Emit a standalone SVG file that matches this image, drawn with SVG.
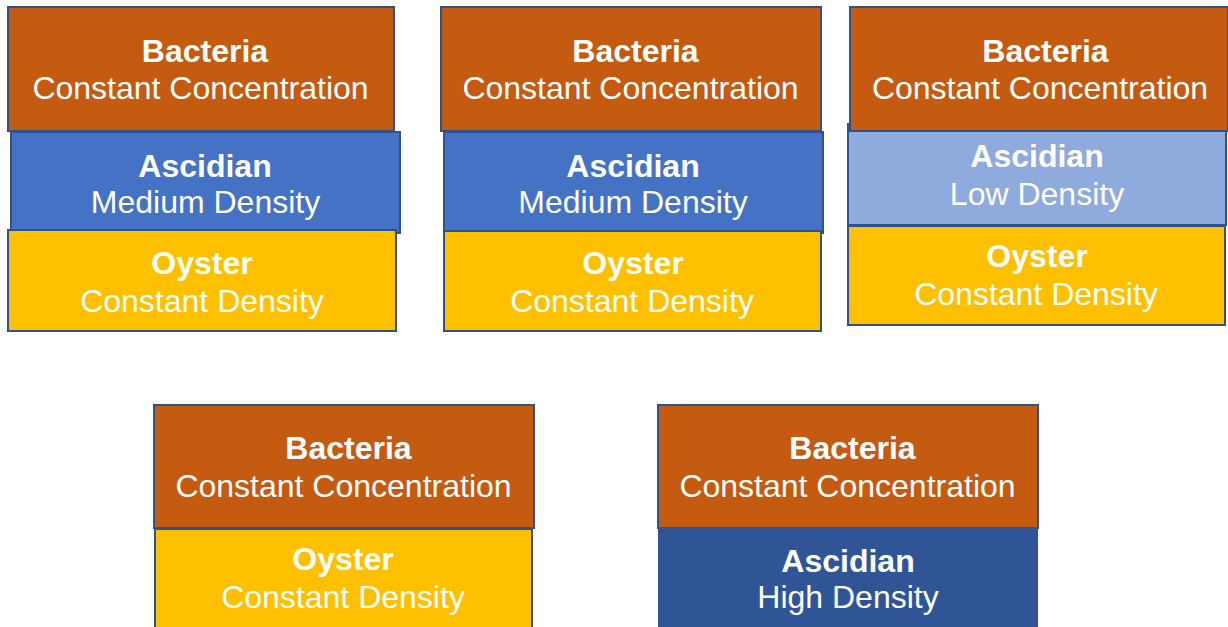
<svg xmlns="http://www.w3.org/2000/svg" width="1228" height="627" viewBox="0 0 1228 627">
<style>
.n{stroke:#2F528F;stroke-width:2}
.bac{fill:#C55A11}
.asc{fill:#4472C4}
.low{fill:#8FAADC}
.high{fill:#2F5597;stroke:none}
.oys{fill:#FFC000}
text{font-family:"Liberation Sans",Arial,sans-serif;font-size:32px;fill:#FFFFFF;text-anchor:middle}
.b{font-weight:bold}
</style>
<rect width="1228" height="627" fill="#FFFFFF"/>
<g id="stack1">
<g id="s1-bacteria"><rect class="n bac" x="8" y="7" width="386" height="124"/><text class="b" x="205" y="62">Bacteria</text><text x="200.5" y="99">Constant Concentration</text></g>
<g id="s1-ascidian"><rect class="n asc" x="11" y="132" width="389" height="101"/><text class="b" x="205" y="177">Ascidian</text><text x="205.5" y="213">Medium Density</text></g>
<g id="s1-oyster"><rect class="n oys" x="8" y="230" width="388" height="101"/><text class="b" x="202" y="274">Oyster</text><text x="202" y="312">Constant Density</text></g>
</g>
<g id="stack2">
<g id="s2-bacteria"><rect class="n bac" x="441" y="7" width="380" height="124"/><text class="b" x="635.5" y="62">Bacteria</text><text x="630.5" y="99">Constant Concentration</text></g>
<g id="s2-ascidian"><rect class="n asc" x="444" y="132" width="379" height="101"/><text class="b" x="633" y="177">Ascidian</text><text x="633" y="213">Medium Density</text></g>
<g id="s2-oyster"><rect class="n oys" x="444" y="231" width="377" height="100"/><text class="b" x="633" y="274">Oyster</text><text x="632" y="312">Constant Density</text></g>
</g>
<g id="stack3">
<g id="s3-ascidian"><rect class="n low" x="848" y="124" width="378" height="101"/><text class="b" x="1037" y="167">Ascidian</text><text x="1037" y="205">Low Density</text></g>
<g id="s3-bacteria"><rect class="n bac" x="850" y="7" width="378" height="124"/><text class="b" x="1045.5" y="62">Bacteria</text><text x="1040" y="99">Constant Concentration</text></g>
<g id="s3-oyster"><rect class="n oys" x="848" y="226" width="377" height="99"/><text class="b" x="1037" y="267">Oyster</text><text x="1036" y="305">Constant Density</text></g>
</g>
<g id="stack4">
<g id="s4-bacteria"><rect class="n bac" x="154" y="405" width="380" height="123"/><text class="b" x="348.5" y="459">Bacteria</text><text x="343.5" y="497">Constant Concentration</text></g>
<g id="s4-oyster"><rect class="n oys" x="155" y="529" width="377" height="102"/><text class="b" x="343" y="570">Oyster</text><text x="343" y="608">Constant Density</text></g>
</g>
<g id="stack5">
<g id="s5-bacteria"><rect class="n bac" x="658" y="405" width="380" height="123"/><text class="b" x="852.5" y="459">Bacteria</text><text x="847.5" y="497">Constant Concentration</text></g>
<g id="s5-ascidian"><rect class="high" x="658" y="528" width="380" height="103"/><text class="b" x="848" y="572">Ascidian</text><text x="848" y="608">High Density</text></g>
</g>
<g id="connectors"></g>
</svg>
